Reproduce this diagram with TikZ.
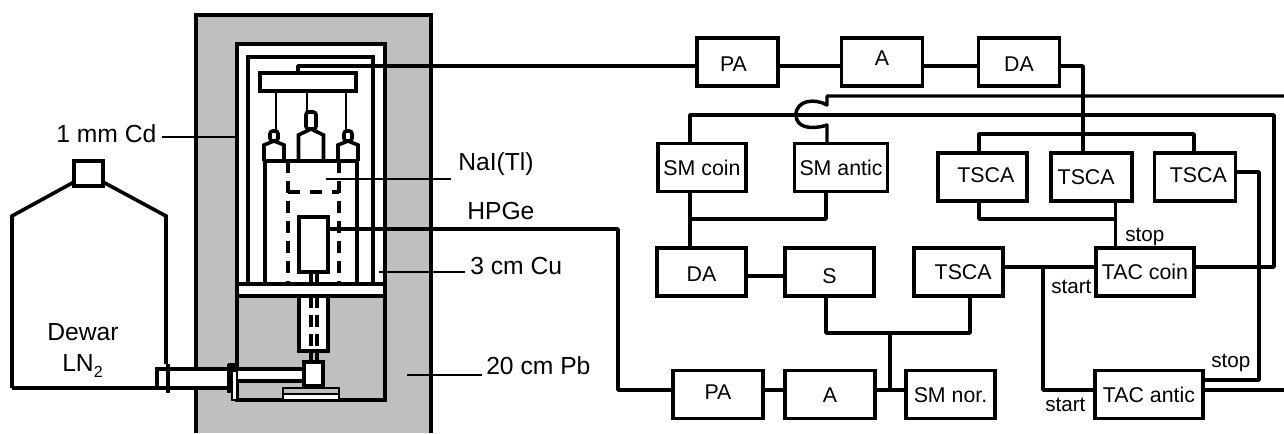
\documentclass[tikz,border=0pt]{standalone}
\usepackage{fontspec}
\setmainfont{Liberation Sans}
\usetikzlibrary{positioning,calc}
\definecolor{shieldgray}{RGB}{191,191,191}
\newcommand{\nudged}[3]{\raisebox{#2}{\hspace*{#1}#3}}
\tikzset{
    wall/.style={line width=2.7pt, line join=miter},
    wire/.style={line width=2.6pt, line join=round},
    thinline/.style={line width=1.1pt},
    sigbox/.style={draw, line width=2.6pt, fill=white, inner sep=0pt, outer sep=0pt, minimum width=61pt, minimum height=36pt, text height=11.5pt, text depth=0pt, font=\fontsize{16}{18}\selectfont},
    part/.style={draw, wall, fill=white, inner sep=0pt, outer sep=0pt},
    biglabel/.style={anchor=base west, inner sep=0pt, font=\fontsize{18.5}{21}\selectfont},
    smalllabel/.style={anchor=base west, inner sep=0pt, font=\fontsize{15.5}{18}\selectfont},
    welldash/.style={line width=2.8pt, dash pattern=on 9pt off 6pt}
}
\begin{document}
\begin{tikzpicture}[x=0.75pt,y=-0.75pt]
    \useasboundingbox (0,0) rectangle (1284,433);

    % Pb shield
    \fill[shieldgray] (196,15) rectangle (431,433);
    \draw[wall] (196,433) -- (196,15) -- (431,15) -- (431,433);
    \draw[wall, fill=white] (237,44) rectangle (385,296);
    \draw[wall, fill=shieldgray] (237,296) rectangle (385,400);
    \draw[wall] (237,284) -- (385,284);

    % Cd and Cu liners
    \draw[wall] (248,284) -- (248,57) -- (373,57) -- (373,284);

    % NaI(Tl) with well
    \draw[wall] (265,284) -- (265,161) -- (357,161) -- (357,284);
    \draw[welldash] (288,161) -- (288,284);
    \draw[welldash] (339,161) -- (339,284);
    \draw[welldash, dash pattern=on 9pt off 7.5pt] (288,192) -- (339,192);

    % Photomultipliers
    \node[part, minimum width=72pt, minimum height=13.5pt] (plate) at (308,82) {};
    \draw[thinline] (276,91) -- (276,131);
    \draw[thinline] (307,91) -- (307,112);
    \draw[thinline] (346,91) -- (346,131);
    \foreach \cx/\hw/\yt/\ys/\ya/\nw in {274/10/131/145/141/4, 311/12.5/112/135/129/5, 348/10/131/145/141/4} {
        \draw[wall] (\cx-\hw,161) -- (\cx-\hw,\ys) -- (\cx,\ya) -- (\cx+\hw,\ys) -- (\cx+\hw,161);
        \draw[wall, fill=white, rounded corners=2pt] (\cx-\nw,\yt) rectangle (\cx+\nw,\ya);
    }

    % HPGe crystal and cold finger
    \node[part, minimum width=21.75pt, minimum height=41.25pt] (hpge) at (313.5,244.5) {};
    \draw[wall] (311,272) -- (311,284);
    \draw[wall] (317,272) -- (317,284);
    \draw[wall, fill=white] (299,296) rectangle (328,351);
    \draw[welldash, dash pattern=on 9pt off 5.25pt] (311,296) -- (311,351);
    \draw[welldash, dash pattern=on 9pt off 5.25pt] (317,296) -- (317,351);
    \draw[wall] (311,351) -- (311,362);
    \draw[wall] (317,351) -- (317,362);
    \draw[thinline, fill=shieldgray] (283,388) rectangle (339,394);
    \draw[wall, line width=1.4pt, fill=white] (283,394) rectangle (339,400);

    % Dewar and transfer pipe
    \fill[white] (157,369) rectangle (228,388);
    \fill[white] (232,371) rectangle (304,381);
    \draw[wall] (12,388) -- (12,216) -- (74,182);
    \draw[wall] (103,182) -- (166,216) -- (166,364);
    \draw[wall] (74,161) rectangle (103,186);
    \draw[wall] (12,388) -- (228,388);
    \draw[wall] (157,388) -- (157,369) -- (304,369);
    \draw[wall] (237,381) -- (304,381);
    \draw[line width=3.2pt] (168,364) -- (168,393);
    \draw[thinline, fill=white] (232,371) rectangle (237,400);
    \draw[line width=3.6pt] (229.5,364) -- (229.5,393);
    \draw[line width=3.6pt] (228,365.5) -- (237,365.5);
    \node[part, minimum width=14.25pt, minimum height=18pt] (cold) at (313.5,374) {};

    % Pointers and labels
    \node[biglabel] (cdlabel) at (56,142) {1 mm Cd};
    \coordinate (cdtip) at (237,137);
    \draw[thinline] (162,137) -- (cdtip);
    \node[biglabel] (nailabel) at (458,170) {NaI(Tl)};
    \draw[thinline] (326,179) -- (451,179);
    \node[biglabel] (hpgelabel) at (467,219) {HPGe};
    \node[biglabel] (culabel) at (470,274) {3 cm Cu};
    \draw[thinline] (379,272) -- (465,272);
    \node[biglabel] (pblabel) at (486,374) {20 cm Pb};
    \draw[thinline] (407,375) -- (482,375);
    \node[biglabel] (dewarlabel) at (47,340) {Dewar};
    \node[biglabel] (lnlabel) at (62,371) {LN\raisebox{-4.5pt}{\fontsize{12}{14}\selectfont 2}};

    % Electronics, upper chain
    \node[sigbox] (pa1) at (737.5,62) {\nudged{-6pt}{-1.5pt}{PA}};
    \node[sigbox] (a1) at (882,62) {\raisebox{3pt}{A}};
    \node[sigbox] (da1) at (1019,62) {\raisebox{-1.5pt}{DA}};
    \node[sigbox, minimum width=66pt] (smcoin) at (702,167.5) {SM coin};
    \node[sigbox, minimum width=70pt] (smantic) at (841,167.5) {SM antic};
    \node[sigbox, minimum width=66.5pt] (tsca1) at (982.5,177) {\nudged{5pt}{1.5pt}{TSCA}};
    \node[sigbox] (tsca2) at (1091.5,177) {\hspace*{-8pt}TSCA};
    \node[sigbox] (tsca3) at (1195,177) {\nudged{5pt}{2pt}{TSCA}};

    % Electronics, lower chain
    \node[sigbox, minimum width=66.5pt] (da2) at (701.5,272) {\raisebox{-1.5pt}{DA}};
    \node[sigbox, minimum width=66.5pt] (s) at (829.5,272) {\raisebox{-3pt}{S}};
    \node[sigbox, minimum width=66.5pt] (tsca4) at (958.5,272) {\hspace*{7pt}TSCA};
    \node[sigbox, minimum width=73.5pt] (taccoin) at (1145,272) {TAC coin};
    \node[sigbox, minimum width=67.5pt] (pa2) at (718,394.5) {\raisebox{2pt}{PA}};
    \node[sigbox, minimum width=67.5pt] (a2) at (830,394.5) {A};
    \node[sigbox, minimum width=66.5pt] (smnor) at (950.5,394.5) {SM nor.};
    \node[sigbox, minimum width=81pt] (tacantic) at (1149,394.5) {TAC antic};

    \node[smalllabel] (stop1) at (1125,241) {stop};
    \node[smalllabel] (start1) at (1051,293) {start};
    \node[smalllabel] (stop2) at (1211,367) {stop};
    \node[smalllabel] (start2) at (1045,411) {start};

    % Anode chain to TSCA
    \coordinate (anode) at (298,66);
    \coordinate (dadrop) at (1083,66);
    \draw[wire] (anode |- plate.north) -- (anode) -- (anode -| pa1.west);
    \draw[wire] (anode -| pa1.east) -- (anode -| a1.west);
    \draw[wire] (anode -| a1.east) -- (anode -| da1.west);
    \draw[wire] (dadrop -| da1.east) -- (dadrop) -- (dadrop |- tsca2.north);
    \coordinate (tscaleft) at (979,134);
    \coordinate (tscaright) at (1194,134);
    \draw[wire] (tscaleft |- tsca1.north) -- (tscaleft) -- (tscaright) -- (tscaright |- tsca3.north);
    \coordinate (tscalow) at (979,219);
    \coordinate (stopdrop) at (1115.5,219);
    \draw[wire] (tscalow |- tsca1.south) -- (tscalow) -- (stopdrop);
    \draw[wire] (stopdrop |- tsca2.south) -- (stopdrop |- taccoin.north);

    % Gate buses from the TACs
    \coordinate (coinbus) at (690,115);
    \coordinate (coinright) at (1274,115);
    \coordinate (coinout) at (1274,267);
    \draw[wire] (coinbus |- smcoin.north) -- (coinbus) -- (coinright) -- (coinout) -- (coinout -| taccoin.east);
    \coordinate (anticend) at (1284,96);
    \coordinate (anticturn) at (827,96);
    \coordinate (anticlow) at (827,125);
    \draw[wire] (anticend) -- (anticturn) -- (827,105) .. controls (815,98) and (796,100) .. (796,115) .. controls (796,128) and (812,130) .. (anticlow) -- (anticlow |- smantic.north);

    % SM outputs to DA and S
    \coordinate (smjoin) at (690,219);
    \coordinate (smright) at (826,219);
    \draw[wire] (smjoin |- smcoin.south) -- (smjoin |- da2.north);
    \draw[wire] (smjoin) -- (smright) -- (smright |- smantic.south);
    \coordinate (darow) at (701,276);
    \draw[wire] (darow -| da2.east) -- (darow -| s.west);

    % HPGe chain
    \coordinate (hpgeout) at (618,229);
    \coordinate (parow) at (618,390);
    \draw[wire] (hpgeout -| hpge.east) -- (hpgeout) -- (parow) -- (parow -| pa2.west);
    \draw[wire] (parow -| pa2.east) -- (parow -| a2.west);
    \draw[wire] (parow -| a2.east) -- (parow -| smnor.west);
    \coordinate (sleft) at (826,333);
    \coordinate (sright) at (970,333);
    \coordinate (sjoin) at (890,333);
    \draw[wire] (sleft |- s.south) -- (sleft) -- (sright) -- (sright |- tsca4.south);
    \draw[wire] (sjoin) -- (sjoin |- parow);

    % Start and stop inputs
    \coordinate (startrow) at (1043,267);
    \coordinate (startlow) at (1043,390);
    \draw[wire] (startrow -| tsca4.east) -- (startrow -| taccoin.west);
    \draw[wire] (startrow) -- (startlow) -- (startlow -| tacantic.west);
    \coordinate (stopturn) at (1259,172);
    \coordinate (stoplow) at (1259,380);
    \draw[wire] (stopturn -| tsca3.east) -- (stopturn) -- (stoplow) -- (stoplow -| tacantic.east);
    \coordinate (anticout) at (1284,390);
    \draw[wire] (anticout -| tacantic.east) -- (anticout);
\end{tikzpicture}
\end{document}
